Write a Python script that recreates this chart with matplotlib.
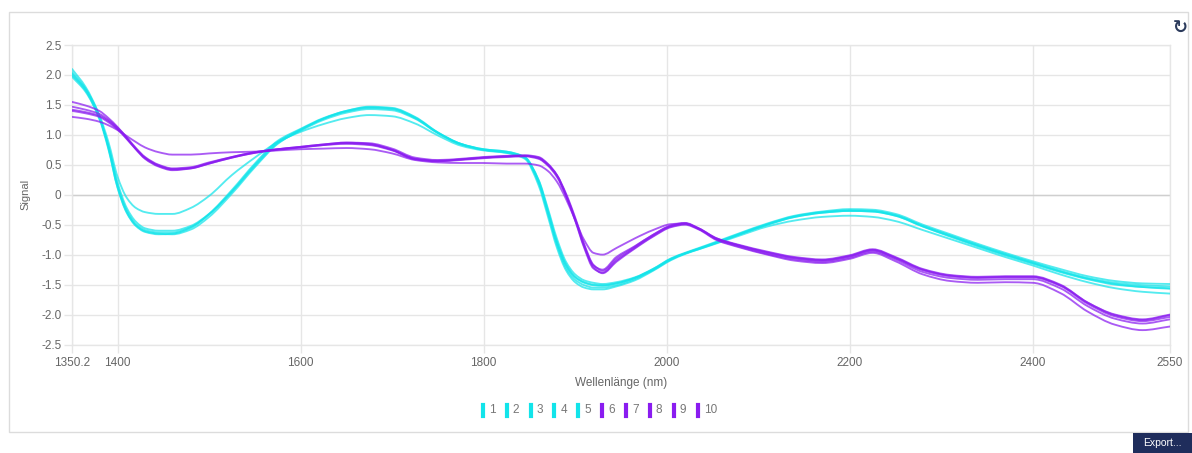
import matplotlib
matplotlib.use("Agg")
import numpy as np
import matplotlib.pyplot as plt
from matplotlib.lines import Line2D
from matplotlib.patches import Rectangle, PathPatch
from matplotlib.path import Path
from matplotlib.ticker import FuncFormatter

plt.rcParams["font.family"] = ["Liberation Sans", "DejaVu Sans"]

# Wavelength grid (nm)
wavelength = [1350.2, 1365, 1380, 1390, 1400, 1410, 1420, 1430, 1445, 1460,
              1480, 1500, 1525, 1550, 1575, 1600, 1625, 1650, 1675, 1700,
              1725, 1750, 1775, 1800, 1825, 1845, 1860, 1870, 1880, 1890,
              1900, 1910, 1920, 1930, 1945, 1965, 1985, 2005, 2020, 2035,
              2055, 2080, 2110, 2140, 2170, 2200, 2225, 2250, 2280, 2310,
              2340, 2370, 2400, 2430, 2460, 2490, 2520, 2550]

# Spectra 1-5
s1 = [2.10, 1.80, 1.32, 0.78, 0.12, -0.30, -0.52, -0.62, -0.66, -0.65,
      -0.55, -0.32, 0.08, 0.52, 0.90, 1.10, 1.28, 1.40, 1.47, 1.45,
      1.30, 1.04, 0.85, 0.76, 0.72, 0.62, 0.22, -0.28, -0.80, -1.18,
      -1.38, -1.47, -1.51, -1.52, -1.48, -1.39, -1.24, -1.06, -0.97, -0.89,
      -0.78, -0.64, -0.48, -0.35, -0.28, -0.24, -0.25, -0.32, -0.50, -0.66,
      -0.82, -0.97, -1.11, -1.24, -1.36, -1.44, -1.48, -1.49]
s2 = [2.05, 1.77, 1.30, 0.80, 0.16, -0.26, -0.49, -0.59, -0.63, -0.63,
      -0.54, -0.33, 0.06, 0.50, 0.88, 1.09, 1.27, 1.39, 1.45, 1.43,
      1.28, 1.03, 0.84, 0.75, 0.71, 0.62, 0.20, -0.30, -0.83, -1.22,
      -1.42, -1.51, -1.55, -1.55, -1.51, -1.41, -1.26, -1.08, -0.98, -0.90,
      -0.79, -0.65, -0.49, -0.36, -0.29, -0.26, -0.27, -0.34, -0.52, -0.68,
      -0.84, -0.99, -1.13, -1.27, -1.39, -1.47, -1.51, -1.53]
s3 = [2.00, 1.74, 1.28, 0.82, 0.20, -0.22, -0.45, -0.56, -0.60, -0.60,
      -0.52, -0.32, 0.05, 0.48, 0.86, 1.07, 1.25, 1.37, 1.43, 1.41,
      1.27, 1.03, 0.85, 0.76, 0.72, 0.63, 0.24, -0.25, -0.78, -1.16,
      -1.37, -1.46, -1.50, -1.51, -1.48, -1.39, -1.25, -1.07, -0.98, -0.90,
      -0.80, -0.66, -0.50, -0.37, -0.30, -0.27, -0.28, -0.35, -0.53, -0.70,
      -0.86, -1.01, -1.15, -1.29, -1.41, -1.50, -1.54, -1.56]
s4 = [1.97, 1.72, 1.27, 0.76, 0.12, -0.29, -0.51, -0.61, -0.65, -0.66,
      -0.58, -0.37, 0.02, 0.46, 0.85, 1.08, 1.27, 1.40, 1.46, 1.44,
      1.29, 1.04, 0.85, 0.75, 0.70, 0.60, 0.16, -0.35, -0.88, -1.26,
      -1.46, -1.55, -1.58, -1.58, -1.53, -1.43, -1.27, -1.09, -0.99, -0.91,
      -0.80, -0.66, -0.50, -0.37, -0.30, -0.27, -0.28, -0.35, -0.53, -0.69,
      -0.85, -1.00, -1.14, -1.28, -1.40, -1.49, -1.54, -1.57]
s5 = [2.02, 1.76, 1.33, 0.88, 0.30, -0.05, -0.22, -0.29, -0.32, -0.32,
      -0.22, -0.02, 0.33, 0.62, 0.88, 1.05, 1.18, 1.28, 1.33, 1.31,
      1.19, 0.99, 0.82, 0.74, 0.70, 0.62, 0.25, -0.22, -0.73, -1.12,
      -1.33, -1.43, -1.47, -1.49, -1.46, -1.38, -1.24, -1.07, -0.98, -0.91,
      -0.81, -0.68, -0.53, -0.43, -0.37, -0.35, -0.37, -0.44, -0.59, -0.74,
      -0.89, -1.04, -1.18, -1.33, -1.46, -1.56, -1.62, -1.65]

# Spectra 6-10
s6 = [1.47, 1.42, 1.35, 1.25, 1.12, 0.96, 0.78, 0.63, 0.50, 0.44,
      0.46, 0.54, 0.63, 0.71, 0.76, 0.80, 0.84, 0.87, 0.85, 0.75,
      0.60, 0.57, 0.59, 0.62, 0.64, 0.65, 0.61, 0.50, 0.32, 0.00,
      -0.40, -0.85, -1.18, -1.25, -1.04, -0.86, -0.67, -0.51, -0.47, -0.56,
      -0.74, -0.85, -0.97, -1.06, -1.10, -1.03, -0.93, -1.06, -1.26, -1.36,
      -1.39, -1.38, -1.38, -1.52, -1.82, -2.03, -2.11, -2.04]
s7 = [1.55, 1.49, 1.40, 1.28, 1.13, 0.95, 0.76, 0.60, 0.47, 0.41,
      0.44, 0.52, 0.62, 0.70, 0.76, 0.80, 0.84, 0.87, 0.86, 0.77,
      0.62, 0.58, 0.60, 0.63, 0.65, 0.66, 0.63, 0.52, 0.33, -0.01,
      -0.43, -0.89, -1.23, -1.30, -1.10, -0.89, -0.69, -0.53, -0.49, -0.57,
      -0.75, -0.87, -0.99, -1.08, -1.12, -1.05, -0.95, -1.08, -1.29, -1.39,
      -1.42, -1.41, -1.41, -1.56, -1.86, -2.07, -2.15, -2.08]
s8 = [1.42, 1.38, 1.32, 1.23, 1.10, 0.94, 0.77, 0.62, 0.49, 0.43,
      0.45, 0.53, 0.63, 0.71, 0.76, 0.79, 0.83, 0.86, 0.84, 0.75,
      0.60, 0.56, 0.59, 0.62, 0.64, 0.65, 0.62, 0.51, 0.33, 0.02,
      -0.38, -0.83, -1.17, -1.27, -1.07, -0.87, -0.67, -0.52, -0.48, -0.56,
      -0.73, -0.85, -0.96, -1.05, -1.09, -1.02, -0.92, -1.05, -1.25, -1.35,
      -1.38, -1.37, -1.37, -1.51, -1.80, -2.01, -2.09, -2.01]
s9 = [1.40, 1.36, 1.30, 1.21, 1.09, 0.93, 0.76, 0.61, 0.48, 0.42,
      0.44, 0.52, 0.62, 0.70, 0.75, 0.79, 0.83, 0.85, 0.83, 0.74,
      0.59, 0.56, 0.58, 0.61, 0.63, 0.64, 0.60, 0.49, 0.30, -0.02,
      -0.42, -0.87, -1.21, -1.31, -1.12, -0.90, -0.70, -0.54, -0.50, -0.58,
      -0.76, -0.88, -1.00, -1.10, -1.14, -1.07, -0.97, -1.11, -1.33, -1.44,
      -1.47, -1.46, -1.47, -1.64, -1.95, -2.17, -2.26, -2.20]
s10 = [1.30, 1.27, 1.22, 1.16, 1.08, 0.98, 0.88, 0.79, 0.71, 0.67,
       0.67, 0.69, 0.71, 0.72, 0.74, 0.76, 0.77, 0.78, 0.76, 0.69,
       0.58, 0.54, 0.53, 0.53, 0.52, 0.52, 0.49, 0.40, 0.22, -0.07,
       -0.42, -0.76, -0.97, -1.00, -0.89, -0.73, -0.59, -0.49, -0.48, -0.57,
       -0.73, -0.84, -0.95, -1.04, -1.08, -1.01, -0.91, -1.04, -1.24, -1.34,
       -1.37, -1.36, -1.36, -1.50, -1.80, -2.00, -2.08, -2.00]

series = [s1, s2, s3, s4, s5, s6, s7, s8, s9, s10]
series_labels = ["1", "2", "3", "4", "5", "6", "7", "8", "9", "10"]
CYAN = "#12e4ea"
PURPLE = "#8a1cf0"
series_colors = [CYAN] * 5 + [PURPLE] * 5

x_ticks = [1350.2, 1400, 1600, 1800, 2000, 2200, 2400, 2550]
y_ticks = [-2.5, -2.0, -1.5, -1.0, -0.5, 0, 0.5, 1.0, 1.5, 2.0, 2.5]


def monotone_path(x, y):
    """Smooth cubic Bezier path through (x, y) with monotone tangents."""
    x = np.asarray(x, float)
    y = np.asarray(y, float)
    h = np.diff(x)
    d = np.diff(y) / h
    m = np.zeros_like(y)
    m[0], m[-1] = d[0], d[-1]
    for i in range(1, len(x) - 1):
        if d[i - 1] * d[i] <= 0:
            m[i] = 0.0
        else:
            w1 = 2 * h[i] + h[i - 1]
            w2 = h[i] + 2 * h[i - 1]
            m[i] = (w1 + w2) / (w1 / d[i - 1] + w2 / d[i])
    verts = [(x[0], y[0])]
    codes = [Path.MOVETO]
    for i in range(len(x) - 1):
        verts += [(x[i] + h[i] / 3, y[i] + m[i] * h[i] / 3),
                  (x[i + 1] - h[i] / 3, y[i + 1] - m[i + 1] * h[i] / 3),
                  (x[i + 1], y[i + 1])]
        codes += [Path.CURVE4] * 3
    return Path(verts, codes)


W, H = 1192, 453
fig = plt.figure(figsize=(W / 100, H / 100), dpi=100)
fig.patch.set_facecolor("white")

# outer panel border
fig.add_artist(Rectangle((9 / W, 1 - 432 / H), (1188 - 9) / W, (432 - 12) / H,
                         transform=fig.transFigure, fill=False,
                         edgecolor="#dcdcdc", linewidth=1))

ax = fig.add_axes([72 / W, 1 - 344.5 / H, 1098 / W, 299.5 / H])
GRID = "#e6e6e6"
for sp in ax.spines.values():
    sp.set_color(GRID)
    sp.set_linewidth(1)
ax.set_xlim(1350.2, 2550)
ax.set_ylim(-2.5, 2.5)
ax.set_xticks(x_ticks)
ax.set_xticklabels(["1350.2", "1400", "1600", "1800", "2000", "2200", "2400", "2550"])
ax.set_yticks(y_ticks)
ax.yaxis.set_major_formatter(FuncFormatter(lambda v, p: "0" if abs(v) < 1e-9 else f"{v:.1f}"))
ax.grid(True, color=GRID, linewidth=1)
ax.set_axisbelow(True)
ax.tick_params(axis="both", colors=GRID, labelcolor="#666666", labelsize=8.5,
               length=6, width=1)
ax.tick_params(axis="y", pad=1.5)
ax.tick_params(axis="x", pad=3)
ax.axhline(0, color="#cfcfcf", linewidth=1, zorder=1)

for vals, col in zip(series, series_colors):
    ax.add_patch(PathPatch(monotone_path(wavelength, vals), facecolor="none",
                           edgecolor=col, linewidth=1.35, alpha=0.72,
                           joinstyle="round", capstyle="round", zorder=3))

ax.set_xlabel("Wellenlänge (nm)", fontsize=8.5, color="#666666", labelpad=6)
ax.set_ylabel("Signal", fontsize=8, color="#666666", labelpad=8)

# legend row
x0 = 482.7
for lab, col in zip(series_labels, series_colors):
    fx = x0 / W
    fig.add_artist(Line2D([fx, fx], [1 - 404.5 / H, 1 - 416 / H],
                          transform=fig.transFigure, color=col, linewidth=3))
    fig.text((x0 + 6) / W, 1 - 410 / H, lab, fontsize=8.5, color="#777777",
             ha="left", va="center")
    x0 += 23.9 if len(lab) == 1 else 30

# refresh icon
fig.text(1180 / W, 1 - 28 / H, "\u21bb", fontsize=13, color="#2c3b5c",
         ha="center", va="center", fontweight="bold", family="DejaVu Sans")

# export button
fig.add_artist(Rectangle((1133 / W, 0), (W - 1133) / W, 20 / H,
                         transform=fig.transFigure, facecolor="#1f2d5c",
                         edgecolor="none"))
fig.text(1162 / W, 1 - 443.5 / H, "Export...", fontsize=7.5, color="white",
         ha="center", va="center")

fig.savefig("out.png", dpi=100)
